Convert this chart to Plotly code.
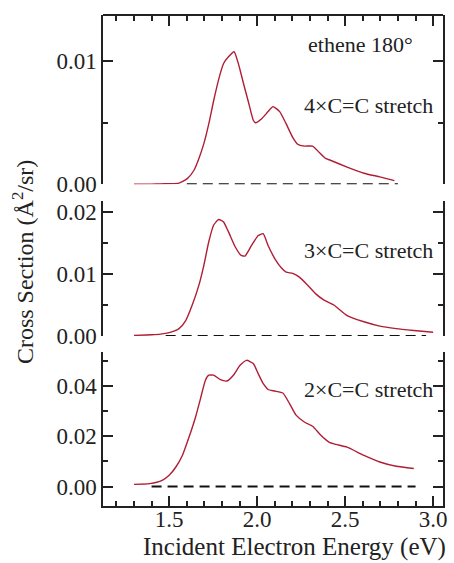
import plotly.graph_objects as go
from plotly.subplots import make_subplots

# 4 x C=C stretch (top panel)
e4 = [1.30, 1.40, 1.45, 1.50, 1.556, 1.603, 1.641, 1.669, 1.697, 1.725, 1.753, 1.781, 1.809,
      1.837, 1.869, 1.893, 1.922, 1.950, 1.978, 1.991, 2.024, 2.062, 2.090, 2.128, 2.165,
      2.202, 2.230, 2.268, 2.315, 2.352, 2.389, 2.416, 2.511, 2.607, 2.697, 2.78]
cs4 = [0.0, 0.00001, 0.00003, 0.00005, 0.0001, 0.00046, 0.00114, 0.0021, 0.0033, 0.0049,
       0.0068, 0.0085, 0.0098, 0.01035, 0.01076, 0.0098, 0.0082, 0.0067, 0.0052, 0.0050,
       0.0053, 0.0059, 0.0063, 0.0059, 0.0049, 0.0038, 0.00325, 0.0031, 0.0031, 0.0026,
       0.0021, 0.00195, 0.0014, 0.0009, 0.0006, 0.0003]

# 3 x C=C stretch (middle panel)
e3 = [1.30, 1.40, 1.45, 1.50, 1.556, 1.594, 1.631, 1.669, 1.697, 1.725, 1.753, 1.781, 1.809,
      1.837, 1.875, 1.909, 1.931, 1.968, 2.006, 2.034, 2.062, 2.100, 2.137, 2.165, 2.202,
      2.240, 2.287, 2.333, 2.380, 2.436, 2.511, 2.607, 2.697, 2.79, 2.89, 3.0]
cs3 = [0.0001, 0.0002, 0.0003, 0.00055, 0.0012, 0.0025, 0.0050, 0.0082, 0.0114, 0.0152,
       0.0179, 0.0188, 0.0184, 0.0168, 0.0144, 0.0130, 0.0129, 0.0146, 0.0162, 0.0165,
       0.0146, 0.0125, 0.0110, 0.0103, 0.0101, 0.0095, 0.0082, 0.0068, 0.0058, 0.0050,
       0.0033, 0.0023, 0.0016, 0.0012, 0.0009, 0.0006]

# 2 x C=C stretch (bottom panel)
e2 = [1.30, 1.39, 1.46, 1.50, 1.538, 1.575, 1.613, 1.650, 1.678, 1.706, 1.725, 1.753, 1.791,
      1.828, 1.865, 1.903, 1.940, 1.978, 2.006, 2.034, 2.062, 2.100, 2.146, 2.184, 2.221,
      2.268, 2.315, 2.362, 2.408, 2.446, 2.511, 2.607, 2.697, 2.79, 2.89]
cs2 = [0.0009, 0.0012, 0.0025, 0.0045, 0.0078, 0.0124, 0.0197, 0.0277, 0.0350, 0.0423,
       0.0443, 0.0443, 0.0425, 0.0420, 0.0443, 0.0482, 0.0502, 0.0489, 0.0449, 0.0410,
       0.0386, 0.0380, 0.0372, 0.0330, 0.0284, 0.0257, 0.0240, 0.0204, 0.0177, 0.0168,
       0.0157, 0.0124, 0.0098, 0.0081, 0.0072]

# zero reference lines (start, end) per panel
zero4 = [1.6, 2.8]
zero3 = [1.48, 2.96]
zero2 = [1.4, 2.9]

labels = ["4×C=C stretch", "3×C=C stretch", "2×C=C stretch"]
red = "#B01E35"
ink = "#222222"
font = "Liberation Serif"

fig = make_subplots(rows=3, cols=1)
fig.update_layout(
    yaxis=dict(domain=[0.6552, 1.0]),
    yaxis2=dict(domain=[0.3462, 0.6206]),
    yaxis3=dict(domain=[0.0, 0.3136]),
)

for row, (x, y, z) in enumerate([(e4, cs4, zero4), (e3, cs3, zero3), (e2, cs2, zero2)], start=1):
    fig.add_trace(go.Scatter(x=z, y=[0, 0], mode="lines",
                             line=dict(color="#111111", width=2, dash="10px,6px")),
                  row=row, col=1)
    fig.add_trace(go.Scatter(x=x, y=y, mode="lines",
                             line=dict(color=red, width=1.4, shape="spline", smoothing=0.5)),
                  row=row, col=1)

yax = dict(showline=True, linecolor=ink, linewidth=1.5, mirror="ticks", ticks="inside",
           ticklen=10, tickwidth=1.5, tickcolor=ink, showgrid=False, zeroline=False,
           tickfont=dict(family=font, size=23, color=ink),
           minor=dict(ticks="inside", ticklen=5, tickwidth=1.5, tickcolor=ink, showgrid=False))
fig.update_yaxes(yax)
fig.update_yaxes(range=[0, 0.01374], tickvals=[0.0, 0.01], ticktext=["0.00", "0.01"],
                 minor=dict(tickvals=[0.005]), row=1, col=1)
fig.update_yaxes(range=[0, 0.02173], tickvals=[0.0, 0.01, 0.02], ticktext=["0.00", "0.01", "0.02"],
                 minor=dict(tickvals=[0.005, 0.015]), row=2, col=1)
fig.update_yaxes(range=[-0.0077, 0.0535], tickvals=[0.0, 0.02, 0.04],
                 ticktext=["0.00", "0.02", "0.04"],
                 minor=dict(tickvals=[0.01, 0.03, 0.05]), row=3, col=1)

xr = [1.124, 3.056]
minor_x = [1.2, 1.3, 1.4, 1.6, 1.7, 1.8, 1.9, 2.1, 2.2, 2.3, 2.4, 2.6, 2.7, 2.8, 2.9, 3.0]
major_x = [1.5, 2.0, 2.5, 3.0]
fig.update_xaxes(range=xr, showgrid=False, zeroline=False)
# top frame of the upper panel, ticks pointing down
fig.update_xaxes(anchor="free", position=1.0, side="top", showline=True, linecolor=ink,
                 linewidth=1.5, ticks="inside", ticklen=10, tickwidth=1.5, tickcolor=ink,
                 showticklabels=False, tickvals=major_x,
                 minor=dict(ticks="inside", ticklen=5, tickwidth=1.5, tickcolor=ink,
                            tickvals=minor_x),
                 row=1, col=1)
fig.update_xaxes(showline=False, ticks="", showticklabels=False, row=2, col=1)
fig.update_xaxes(showline=True, linecolor=ink, linewidth=1.5, ticks="inside",
                 ticklen=10, tickwidth=1.5, tickcolor=ink, showticklabels=True,
                 tickvals=major_x, ticktext=["1.5", "2.0", "2.5", "3.0"],
                 tickfont=dict(family=font, size=23, color=ink), ticklabelstandoff=-8,
                 minor=dict(ticks="inside", ticklen=5, tickwidth=1.5, tickcolor=ink,
                            tickvals=minor_x),
                 row=3, col=1)

fig.add_annotation(text="Incident Electron Energy (eV)", xref="paper", yref="paper",
                   x=0.562, y=-0.0842, xanchor="center", yanchor="middle", showarrow=False,
                   font=dict(family=font, size=25, color=ink))
fig.add_annotation(text="ethene 180°", xref="paper", yref="paper", x=0.757, y=0.939,
                   xanchor="center", yanchor="middle", showarrow=False,
                   font=dict(family=font, size=22, color=ink))
for lab, ypos in zip(labels, [0.8166, 0.5211, 0.2379]):
    fig.add_annotation(text=lab, xref="paper", yref="paper", x=0.976, y=ypos,
                       xanchor="right", yanchor="middle", showarrow=False,
                       font=dict(family=font, size=22, color=ink))
fig.add_annotation(text="Cross Section (Å<sup>2</sup>/sr)", xref="paper", yref="paper",
                   x=-0.2355, y=0.4966, xanchor="center", yanchor="middle", textangle=-90,
                   showarrow=False, font=dict(family=font, size=24, color=ink))

fig.update_layout(
    width=454, height=563, showlegend=False,
    margin=dict(l=103, r=7, t=15, b=57),
    paper_bgcolor="white", plot_bgcolor="white",
)

# drop the page's default 8px body margin so the figure fills the window exactly
fig.write_html("out.html", config={"displayModeBar": False},
               post_script="document.body.style.margin='0px';")
